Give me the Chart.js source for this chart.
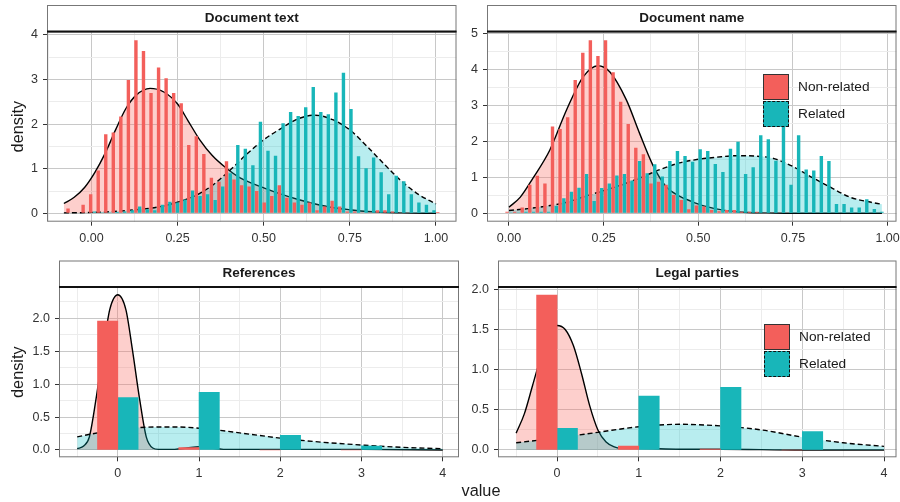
<!DOCTYPE html>
<html>
<head>
<meta charset="utf-8">
<script src="https://cdn.jsdelivr.net/npm/chart.js@4.4.1/dist/chart.umd.min.js"></script>
<style>
  body { margin: 0; background: #fff; width: 900px; height: 502px; position: relative; overflow: hidden;
         font-family: 'Liberation Sans', Arial, Helvetica, sans-serif; }
  .panel { position: absolute; }
  .key { position: absolute; width: 26px; height: 26px; box-sizing: border-box; }
  .lab { position: absolute; font-size: 13.7px; color: #1a1a1a; line-height: 16px; }
  #xtitle { position: absolute; left: 481px; top: 490px; transform: translate(-50%, -50%); font-size: 16.3px; color: #1a1a1a; }
</style>
</head>
<body>
<div class="panel" style="left:0;top:0"><canvas id="cText" width="460" height="250"></canvas></div>
<div class="panel" style="left:460px;top:0"><canvas id="cName" width="440" height="250"></canvas></div>
<div class="panel" style="left:0;top:250px"><canvas id="cRef" width="460" height="252"></canvas></div>
<div class="panel" style="left:460px;top:250px"><canvas id="cParty" width="440" height="252"></canvas></div>

<div class="key" style="left:763px;top:74px;background:#F35F5B;border:1px solid #333"></div>
<div class="key" style="left:763px;top:101px;background:#18B6B9;border:1px dashed #111"></div>
<div class="lab" style="left:798px;top:79px">Non-related</div>
<div class="lab" style="left:798px;top:106px">Related</div>

<div class="key" style="left:764px;top:324px;background:#F35F5B;border:1px solid #333"></div>
<div class="key" style="left:764px;top:351px;background:#18B6B9;border:1px dashed #111"></div>
<div class="lab" style="left:799px;top:329px">Non-related</div>
<div class="lab" style="left:799px;top:356px">Related</div>

<div id="xtitle">value</div>

<script>
// ---- Document text: histogram (density scale), bins of width ~0.022
var textFirstBin = -0.0625, textBinWidth = 0.0219;
var textNonRel = [0.11,0,0.19,0.43,0.96,1.77,1.81,2.17,2.99,3.88,
                  3.64,2.70,3.27,3.03,2.70,2.47,1.53,1.73,1.33,0.80,
                  0.71,1.17,0.76,0.63,0.60,0.50,0.24,0.39,0.63,0.35,
                  0.24,0.19,0.24,0.07,0.15,0.28,0.15,0.04,0.04,0.02,
                  0.02,0.07,0.07,0.04,0.02,0.02,0.01,0.01,0,0.03];
var textRel = [0,0,0,0.04,0.02,0.02,0.03,0.04,0.07,0.15,
               0.09,0.07,0.19,0.26,0.24,0.31,0.51,0.39,0.43,0.30,
               0.60,0.90,1.53,1.45,1.08,2.05,1.40,1.29,2.02,2.27,
               2.18,2.38,2.83,2.27,2.22,2.71,3.15,2.34,1.28,1.01,
               1.25,0.92,0.43,0.84,0.72,0.43,0.24,0.19,0.07,0];
var textDensNonX = [-0.08,-0.05,-0.02,0.01,0.04,0.07,0.10,0.13,0.17,0.21,0.25,0.28,0.315,0.35,0.39,0.43,0.47,0.5,0.55,0.6,0.65,0.7,0.75,0.8,0.9,1.0];
var textDensNon = [0.22,0.36,0.58,0.92,1.35,1.87,2.35,2.65,2.80,2.72,2.45,2.08,1.64,1.3,1.02,0.8,0.66,0.57,0.43,0.31,0.21,0.13,0.08,0.04,0.01,0.0];
var textDensRelX = [-0.08,0,0.1,0.2,0.25,0.3,0.35,0.4,0.45,0.5,0.55,0.6,0.65,0.7,0.75,0.8,0.85,0.9,0.95,1.0];
var textDensRel = [0.01,0.02,0.06,0.15,0.25,0.39,0.62,0.95,1.32,1.65,1.9,2.12,2.2,2.1,1.87,1.5,1.1,0.72,0.42,0.21];

// ---- Document name: bins of width 0.02
var nameFirstBin = 0, nameBinWidth = 0.02;
var nameNonRel = [0.04,0.04,0.16,0.79,1.04,0.83,2.41,2.34,2.67,3.70,
                  4.46,4.81,4.37,4.81,3.92,3.10,2.48,1.82,1.64,0.83,
                  0.88,0.79,0.51,0.37,0.11,0.22,0.19,0.09,0.06,0.09,
                  0.09,0.04,0.04,0.04,0.02,0.02,0.01,0.01,0,0,
                  0,0,0,0,0,0,0,0,0,0];
var nameRel = [0.02,0.02,0.04,0.04,0.04,0.04,0.2,0.42,0.6,0.71,
               1.09,0.34,0.70,0.83,1.05,1.09,0.91,1.45,1.11,1.36,
               1.02,1.45,1.73,1.59,1.43,1.78,1.73,1.37,1.15,1.79,
               1.99,1.09,1.28,2.17,2.06,1.46,2.6,0.79,2.17,1.22,
               1.19,1.59,1.45,0.26,0.26,0.16,0.16,0.39,0.12,0.04];
var nameDensNonX = [0,0.03,0.063,0.108,0.152,0.196,0.235,0.266,0.31,0.345,0.38,0.415,0.45,0.48,0.517,0.57,0.62,0.7,0.8,0.985];
var nameDensNon = [0.17,0.45,0.97,1.76,2.87,3.79,4.1,3.93,3.15,2.22,1.34,0.74,0.48,0.34,0.2,0.08,0.03,0.01,0,0];
var nameDensRelX = [0,0.05,0.1,0.15,0.2,0.25,0.3,0.35,0.4,0.45,0.5,0.55,0.6,0.65,0.7,0.75,0.8,0.85,0.9,0.95,0.985];
var nameDensRel = [0.08,0.13,0.2,0.3,0.47,0.63,0.8,1.0,1.22,1.4,1.5,1.56,1.6,1.59,1.52,1.3,1.0,0.72,0.45,0.32,0.25];

// ---- References / Legal parties: counts 0..3
var refBins = [0, 1, 2, 3];
var refNonRel = [1.96, 0.035, 0, 0];
var refRel = [0.795, 0.876, 0.223, 0.06];
var refDensNonX = [-0.5,-0.42,-0.35,-0.27,-0.18,-0.1,0,0.1,0.18,0.27,0.35,0.43,0.5,0.7,0.85,1.0,1.15,1.3,1.6,2,3,4];
var refDensNon = [0.02,0.06,0.2,0.76,1.52,2.13,2.36,2.13,1.52,0.76,0.2,0.03,0.01,0.01,0.03,0.05,0.03,0.01,0.01,0.01,0.01,0];
var refDensRelX = [-0.5,-0.25,0,0.25,0.5,0.75,1,1.25,1.5,1.75,2,2.5,3,3.5,4];
var refDensRel = [0.2,0.26,0.31,0.34,0.35,0.35,0.33,0.3,0.26,0.22,0.18,0.12,0.076,0.04,0.02];

var partyBins = [0, 1, 2, 3];
var partyNonRel = [1.93, 0.05, 0.01, 0];
var partyRel = [0.27, 0.67, 0.78, 0.23];
var partyDensNonX = [-0.5,-0.4,-0.3,-0.2,-0.1,0,0.1,0.2,0.3,0.4,0.5,0.6,0.7,0.8,1,1.5,2,3,4];
var partyDensNon = [0.21,0.45,0.8,1.15,1.43,1.55,1.5,1.3,0.95,0.55,0.25,0.1,0.04,0.02,0.02,0.01,0.01,0,0];
var partyDensRelX = [-0.5,0,0.5,1,1.5,2,2.5,3,3.5,4];
var partyDensRel = [0.09,0.15,0.22,0.29,0.32,0.3,0.25,0.16,0.09,0.045];

// ---- tick labels
var propTicks = [0, 0.25, 0.5, 0.75, 1];
var propLabels = ['0.00', '0.25', '0.50', '0.75', '1.00'];
var propMinor = [-0.125, 0.125, 0.375, 0.625, 0.875];
var countTicks = [0, 1, 2, 3, 4];
var countLabels = ['0', '1', '2', '3', '4'];
var countMinor = [-0.5, 0.5, 1.5, 2.5, 3.5];
var textYTicks = [0, 1, 2, 3, 4];
var textYLabels = ['0', '1', '2', '3', '4'];
var textYMinor = [0.5, 1.5, 2.5, 3.5];
var nameYTicks = [0, 1, 2, 3, 4, 5];
var nameYLabels = ['0', '1', '2', '3', '4', '5'];
var nameYMinor = [0.5, 1.5, 2.5, 3.5, 4.5];
var lowYTicks = [0, 0.5, 1, 1.5, 2];
var lowYLabels = ['0.0', '0.5', '1.0', '1.5', '2.0'];
var lowYMinor = [0.25, 0.75, 1.25, 1.75, 2.25];

var FONT = "'Liberation Sans', Arial, Helvetica, sans-serif";
var RED = '#F35F5B', TEAL = '#18B6B9';
var RED_FILL = 'rgba(248,118,109,0.35)', TEAL_FILL = 'rgba(0,191,196,0.28)';

function near(list, v) {
  for (var i = 0; i < list.length; i++) if (Math.abs(list[i] - v) < 1e-9) return i;
  return -1;
}

function axis(o) {
  return {
    type: 'linear', min: o.min, max: o.max, offset: false,
    grid: {
      offset: false, lineWidth: 1, tickLength: 4, drawTicks: true,
      color: function(c){ return c.tick && near(o.major, c.tick.value) >= 0 ? '#c8c8c8' : '#ececec'; },
      tickColor: function(c){ return c.tick && near(o.major, c.tick.value) >= 0 ? '#333' : 'rgba(0,0,0,0)'; }
    },
    border: { display: false },
    ticks: {
      autoSkip: false, maxRotation: 0, minRotation: 0, color: '#333', padding: o.pad,
      font: { family: FONT, size: 12.5 },
      callback: function(v){ var i = near(o.major, v); return i < 0 ? '' : o.labels[i]; }
    },
    title: o.title ? { display: true, text: o.title, color: '#1a1a1a', font: { family: FONT, size: 16.3 }, padding: { top: 8.5, bottom: 0 } } : { display: false },
    afterBuildTicks: function(s){
      s.ticks = o.major.concat(o.minor)
        .filter(function(v){ return v >= o.min && v <= o.max; })
        .sort(function(a, b){ return a - b; })
        .map(function(v){ return { value: v }; });
    },
    afterFit: function(s){
      if (o.horizontal) s.height = o.size; else s.width = o.size;
      s.paddingLeft = s.paddingRight = s.paddingTop = s.paddingBottom = 0;
    }
  };
}

// strip box above each panel + grey panel border
var stripPlugin = {
  id: 'strip',
  afterDraw: function(chart, args, opts){
    var ctx = chart.ctx, a = chart.chartArea, top = opts.top;
    ctx.save();
    ctx.strokeStyle = '#777'; ctx.lineWidth = 1;
    ctx.strokeRect(a.left + 0.5, top + 0.5, a.right - a.left - 1, a.top - top);
    ctx.strokeRect(a.left + 0.5, a.top, a.right - a.left - 1, a.bottom - a.top - 0.5);
    ctx.strokeStyle = '#111'; ctx.lineWidth = 2;
    ctx.beginPath(); ctx.moveTo(a.left, a.top); ctx.lineTo(a.right, a.top); ctx.stroke();
    ctx.restore();
  }
};

function pts(xs, ys){ return xs.map(function(x, i){ return { x: x, y: ys[i] }; }); }

function panel(id, c){
  // bar width comes from the smallest gap between bins/ticks on the x scale
  var bars = { categoryPercentage: c.cat, barPercentage: c.bar, borderWidth: 0, order: 0 };
  new Chart(document.getElementById(id), {
    type: 'bar',
    data: {
      datasets: [
        Object.assign({ type: 'bar', label: 'Non-related', data: pts(c.bins, c.non), backgroundColor: RED }, bars),
        Object.assign({ type: 'bar', label: 'Related', data: pts(c.bins, c.rel), backgroundColor: TEAL }, bars),
        { type: 'line', label: 'Related density', data: pts(c.relX, c.relD), borderColor: '#000', borderWidth: 1.4,
          borderDash: [5, 3], backgroundColor: TEAL_FILL, fill: 'origin', pointRadius: 0,
          cubicInterpolationMode: 'monotone', order: 1 },
        { type: 'line', label: 'Non-related density', data: pts(c.nonX, c.nonD), borderColor: '#000', borderWidth: 1.4,
          backgroundColor: RED_FILL, fill: 'origin', pointRadius: 0,
          cubicInterpolationMode: 'monotone', order: 2 }
      ]
    },
    options: {
      responsive: false, animation: false, events: [],
      layout: { padding: { left: 0, right: c.padR, top: c.stripTop, bottom: 0 } },
      plugins: {
        legend: { display: false }, tooltip: { enabled: false },
        title: { display: true, text: c.title, fullSize: false, color: '#1a1a1a',
                 font: { family: FONT, size: 13.5, weight: 'bold', lineHeight: 1 }, padding: { top: 6.5, bottom: 6.5 } },
        strip: { top: c.stripTop }
      },
      scales: {
        x: axis({ min: c.xmin, max: c.xmax, major: c.xt, labels: c.xl, minor: c.xm, horizontal: true, size: c.xh, pad: 5 }),
        y: axis({ min: c.ymin, max: c.ymax, major: c.yt, labels: c.yl, minor: c.ym, size: c.yw, pad: 5, title: c.ytitle })
      }
    },
    plugins: [stripPlugin]
  });
}

function binCenters(first, width, n){
  var out = [];
  for (var i = 0; i < n; i++) out.push(+(first + i * width).toFixed(4));
  return out;
}

panel('cText', {
  title: 'Document text', bins: binCenters(textFirstBin, textBinWidth, textNonRel.length),
  non: textNonRel, rel: textRel, nonX: textDensNonX, nonD: textDensNon, relX: textDensRelX, relD: textDensRel,
  cat: 1, bar: 0.9, xmin: -0.129, xmax: 1.0595, ymin: -0.188, ymax: 4.076,
  xt: propTicks, xl: propLabels, xm: propMinor, yt: textYTicks, yl: textYLabels, ym: textYMinor,
  stripTop: 5, padR: 3.5, xh: 28.3, yw: 47, ytitle: 'density'
});
panel('cName', {
  title: 'Document name', bins: binCenters(nameFirstBin, nameBinWidth, nameNonRel.length),
  non: nameNonRel, rel: nameRel, nonX: nameDensNonX, nonD: nameDensNon, relX: nameDensRelX, relD: nameDensRel,
  cat: 1, bar: 0.9, xmin: -0.058, xmax: 1.0235, ymin: -0.233, ymax: 5.05,
  xt: propTicks, xl: propLabels, xm: propMinor, yt: nameYTicks, yl: nameYLabels, ym: nameYMinor,
  stripTop: 5, padR: 3.5, xh: 28.3, yw: 27
});
panel('cRef', {
  title: 'References', bins: refBins,
  non: refNonRel, rel: refRel, nonX: refDensNonX, nonD: refDensNon, relX: refDensRelX, relD: refDensRel,
  cat: 1, bar: 1, xmin: -0.724, xmax: 4.2, ymin: -0.111, ymax: 2.477,
  xt: countTicks, xl: countLabels, xm: countMinor, yt: lowYTicks, yl: lowYLabels, ym: lowYMinor,
  stripTop: 10.5, padR: 1, xh: 44.7, yw: 59, ytitle: 'density'
});
panel('cParty', {
  title: 'Legal parties', bins: partyBins,
  non: partyNonRel, rel: partyRel, nonX: partyDensNonX, nonD: partyDensNon, relX: partyDensRelX, relD: partyDensRel,
  cat: 1, bar: 1, xmin: -0.722, xmax: 4.152, ymin: -0.091, ymax: 2.03,
  xt: countTicks, xl: countLabels, xm: countMinor, yt: lowYTicks, yl: lowYLabels, ym: lowYMinor,
  stripTop: 10.5, padR: 3.5, xh: 44.7, yw: 38
});
</script>
</body>
</html>
